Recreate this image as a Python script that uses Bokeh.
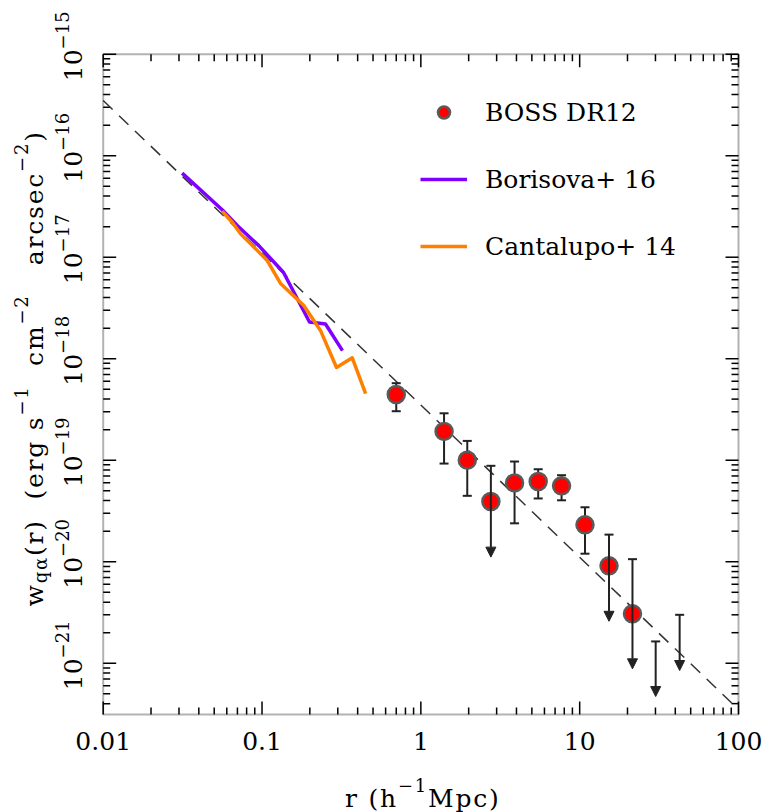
import math
from bokeh.plotting import figure
from bokeh.models import (ColumnDataSource, Label, Legend, LegendItem, Arrow,
                          NormalHead, BoxAnnotation)
from bokeh.embed import file_html
from bokeh.resources import INLINE

FONT = "DejaVu Serif"
MAIN = 25      # px, main text
SCRIPT = 18    # px, super/subscripts

# ---- data: r in h^-1 Mpc, w in erg s^-1 cm^-2 arcsec^-2 ----
# BOSS DR12 detections with two-sided errors
boss_r = [0.70, 1.40, 1.96, 3.89, 5.48, 7.69, 10.8]
boss_w = [4.44e-19, 1.92e-19, 1.00e-19, 5.98e-20, 6.17e-20, 5.60e-20, 2.31e-20]
boss_w_hi = [5.74e-19, 2.90e-19, 1.55e-19, 9.71e-20, 8.15e-20, 7.12e-20, 3.44e-20]
boss_w_lo = [3.04e-19, 9.27e-20, 4.46e-20, 2.39e-20, 4.20e-20, 4.03e-20, 1.20e-20]

# BOSS DR12 points whose lower error reaches zero (upper error + arrow)
bosslim_r = [2.76, 15.3, 21.5]
bosslim_w = [3.92e-20, 9.12e-21, 3.07e-21]
bosslim_w_hi = [8.81e-20, 1.85e-20, 1.06e-20]
bosslim_w_tip = [1.11e-20, 2.59e-21, 8.81e-22]

# pure upper limits
uplim_r = [30.1, 42.6]
uplim_w_hi = [1.64e-21, 3.00e-21]
uplim_w_tip = [4.70e-22, 8.48e-22]

# Borisova+ 16 and Cantalupo+ 14 nebula profiles
bor_r = [0.0314, 0.0561, 0.0698, 0.0954, 0.1366, 0.199, 0.251, 0.321]
bor_w = [6.73e-17, 2.93e-17, 2.05e-17, 1.30e-17, 7.07e-18, 2.30e-18, 2.20e-18, 1.20e-18]
can_r = [0.0561, 0.0649, 0.0732, 0.0847, 0.1078, 0.1308, 0.1832, 0.2333, 0.2944, 0.370, 0.449]
can_w = [2.84e-17, 2.21e-17, 1.70e-17, 1.36e-17, 9.28e-18, 5.51e-18, 3.34e-18, 1.90e-18,
         8.19e-19, 1.02e-18, 4.54e-19]

# power-law model (slope -1.5) end points
model_r = [0.01, 100.0]
model_w = [3.5e-16, 3.5e-22]

# axes
x_ticks = [0.01, 0.1, 1, 10, 100]
x_tick_labels = ["0.01", "0.1", "1", "10", "100"]
y_exponents = [-21, -20, -19, -18, -17, -16, -15]
x_lim = (0.01, 100.0)
y_lim = (10 ** -21.505, 1e-15)

series_names = ["BOSS DR12", "Borisova+ 16", "Cantalupo+ 14"]

# ---- canvas geometry (pixels) ----
W, H = 766, 812
BOX_L, BOX_R, BOX_T, BOX_B = 102.7, 738.0, 53.7, 714.0
BASE_FIX = 9       # Label draws the alphabetic baseline this much lower
TRACK = 1.8        # extra letter spacing of the axis titles

# ---- text width helper (for composing super/subscripts) ----
_FALLBACK = {"0": .636, "1": .636, "2": .636, "5": .636, "6": .636, "7": .636, "8": .636,
             "9": .636, " ": .318, "(": .390, ")": .390, "\u2212": .838, "r": .478,
             "h": .640, "M": .960, "p": .641, "c": .562, "w": .862, "q": .640,
             "\u03b1": .660, "e": .592, "g": .640, "s": .512, "m": .948, "a": .596}
_fonts = {}


def text_width(s, size):
    try:
        from PIL import ImageFont
        if size not in _fonts:
            _fonts[size] = ImageFont.truetype("DejaVuSerif.ttf", size)
        return _fonts[size].getlength(s)
    except Exception:
        return sum(_FALLBACK.get(ch, 0.6) for ch in s) * size


# The plotting frame spans the whole canvas; the axis box is drawn by hand so that
# tick labels and titles sit inside the frame and are never clipped.
lx0, lx1 = math.log10(x_lim[0]), math.log10(x_lim[1])
ly0, ly1 = math.log10(y_lim[0]), math.log10(y_lim[1])
dx = (lx1 - lx0) / (BOX_R - BOX_L)
dy = (ly1 - ly0) / (BOX_B - BOX_T)
x_full = (10 ** (lx0 - BOX_L * dx), 10 ** (lx1 + (W - BOX_R) * dx))
y_full = (10 ** (ly0 - (H - BOX_B) * dy), 10 ** (ly1 + BOX_T * dy))

p = figure(width=W, height=H, x_axis_type="log", y_axis_type="log",
           x_range=x_full, y_range=y_full, output_backend="svg",
           toolbar_location=None, title=None,
           x_axis_location=None, y_axis_location=None)
p.min_border = 0
p.outline_line_color = None
p.grid.visible = False
p.background_fill_color = "white"
p.border_fill_color = "white"

# ---- axis box and inward ticks ----
p.add_layout(BoxAnnotation(left=x_lim[0], right=x_lim[1], bottom=y_lim[0], top=y_lim[1],
                           fill_alpha=0, line_color="black", line_width=2))

x_minor = [k * 10.0 ** n for n in range(-2, 2) for k in range(2, 10)]
y_major = [10.0 ** e for e in y_exponents]
y_minor = [k * 10.0 ** n for n in range(-22, -15) for k in range(2, 10)
           if y_lim[0] < k * 10.0 ** n < y_lim[1]]

tick_kw = dict(length_units="screen", line_color="black", line_width=1.5)
for ticks, ln in ((x_ticks, 13), (x_minor, 7)):
    p.ray(x=ticks, y=[y_lim[0]] * len(ticks), length=ln, angle=math.pi / 2, **tick_kw)
    p.ray(x=ticks, y=[y_lim[1]] * len(ticks), length=ln, angle=-math.pi / 2, **tick_kw)
for ticks, ln in ((y_major, 13), (y_minor, 7)):
    p.ray(x=[x_lim[0]] * len(ticks), y=ticks, length=ln, angle=0, **tick_kw)
    p.ray(x=[x_lim[1]] * len(ticks), y=ticks, length=ln, angle=math.pi, **tick_kw)

# ---- model line ----
p.line(model_r, model_w, line_color="#333333", line_width=1.5, line_dash="13 9")

# ---- literature profiles ----
r_bor = p.line(bor_r, bor_w, line_color="#8000ff", line_width=3.5, line_join="round")
r_can = p.line(can_r, can_w, line_color="#ff8000", line_width=3.5, line_join="round")

# ---- BOSS error bars ----
bar_color = "#222222"
p.segment(boss_r, boss_w_lo, boss_r, boss_w_hi, line_color=bar_color, line_width=2)
p.scatter(boss_r + boss_r, boss_w_hi + boss_w_lo, marker="dash", size=9,
          line_color=bar_color, line_width=2)

lim_src = ColumnDataSource(dict(r=bosslim_r + uplim_r,
                                top=bosslim_w_hi + uplim_w_hi,
                                tip=bosslim_w_tip + uplim_w_tip))
p.scatter("r", "top", source=lim_src, marker="dash", size=9,
          line_color=bar_color, line_width=2)
p.add_layout(Arrow(x_start="r", y_start="top", x_end="r", y_end="tip", source=lim_src,
                   line_color=bar_color, line_width=2,
                   end=NormalHead(size=10, fill_color=bar_color, line_color=bar_color,
                                  line_width=1)))

# ---- BOSS points ----
r_boss = p.scatter(boss_r + bosslim_r, boss_w + bosslim_w, marker="circle", size=17,
                   fill_color="#ff0000", line_color="#5a5a5a", line_width=2.5)

# ---- legend ----
legend = Legend(items=[LegendItem(label=series_names[0], renderers=[r_boss]),
                       LegendItem(label=series_names[1], renderers=[r_bor]),
                       LegendItem(label=series_names[2], renderers=[r_can])],
                location=(420, H - 261), orientation="vertical",
                label_text_font=FONT, label_text_font_size=f"{MAIN}px",
                label_text_color="black",
                glyph_width=47, glyph_height=30, label_height=30,
                label_standoff=18, spacing=37, padding=0, margin=0,
                border_line_alpha=0, background_fill_alpha=0)
p.add_layout(legend, "center")

# ---- text ----
x_mid = math.sqrt(x_lim[0] * x_lim[1])
y_mid = math.sqrt(y_lim[0] * y_lim[1])


def add_label(x, y, text, size, xo, yo, angle=0.0, align="left"):
    # xo/yo give the alphabetic baseline position relative to (x, y)
    if angle:
        xo -= BASE_FIX
    else:
        yo += BASE_FIX
    p.add_layout(Label(x=x, y=y, text=text, x_offset=xo, y_offset=yo, angle=angle,
                       text_font=FONT, text_font_size=f"{size}px", text_color="black",
                       text_align=align, text_baseline="alphabetic"))


def add_chain(x, y, pieces, base_xo, base_yo, start, vertical, track=0.0):
    """Lay out text pieces (text, size, shift) one after the other.

    With track > 0 every character is placed on its own, spaced out evenly."""
    cur = start
    for t, s, sh in pieces:
        units = list(t) if track else [t]
        for u in units:
            if u.strip():
                if vertical:
                    add_label(x, y, u, s, base_xo - sh, cur, math.pi / 2)
                else:
                    add_label(x, y, u, s, cur, base_yo + sh)
            cur += text_width(u, s) + track * len(u)


def chain_width(pieces, track=0.0):
    return sum(text_width(ch, s) + track for t, s, _ in pieces for ch in t) \
        if track else sum(text_width(t, s) for t, s, _ in pieces)


# x tick labels
for t, lab in zip(x_ticks, x_tick_labels):
    add_label(t, y_lim[0], lab, MAIN, 0, -35, align="center")

# y tick labels "10^n", rotated to read upward
for e, val in zip(y_exponents, y_major):
    add_chain(x_lim[0], val, [("10", MAIN, 0), ("\u2212" + str(-e), SCRIPT, 11)],
              -21, 0, -27, vertical=True)

# x axis title: r (h^-1 Mpc)
xt_pieces = [("r (h", MAIN, 0), ("\u22121", SCRIPT, 13), ("Mpc)", MAIN, 0)]
add_chain(x_mid, y_lim[0], xt_pieces, 0, -92.5,
          2 - chain_width(xt_pieces, TRACK) / 2, vertical=False, track=TRACK)

# y axis title: w_qa(r) (erg s^-1 cm^-2 arcsec^-2), rotated
yt_pieces = [("w", MAIN, 0), ("q\u03b1", SCRIPT, -6), ("(r)", MAIN, 0),
             ("  (erg s", MAIN, 0), ("\u22121", SCRIPT, 13), ("  cm", MAIN, 0),
             ("\u22122", SCRIPT, 13), ("   arcsec", MAIN, 0), ("\u22122", SCRIPT, 13),
             (")", MAIN, 0)]
add_chain(x_lim[0], y_mid, yt_pieces, -60, 0, 16 - chain_width(yt_pieces, TRACK) / 2,
          vertical=True, track=TRACK)

open("out.html", "w").write(file_html(p, INLINE))
